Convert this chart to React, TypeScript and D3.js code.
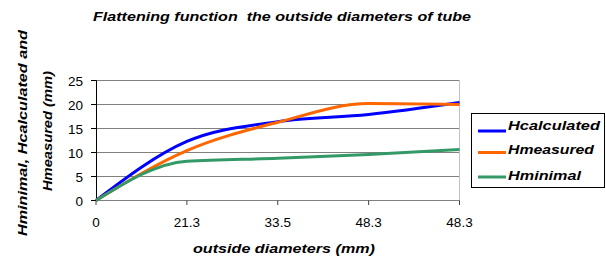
import React from "react";
import * as d3 from "d3";

const categories = ["0", "21.3", "33.5", "48.3", "48.3"];
const hCalculated = [0, 12.3, 16.4, 17.9, 20.4];
const hMeasured = [0, 10.4, 16.3, 20.2, 20.0];
const hMinimal = [0, 8.2, 8.8, 9.6, 10.6];
const yTicks = [0, 5, 10, 15, 20, 25];
const seriesNames = ["Hcalculated", "Hmeasured", "Hminimal"];
const seriesColors = ["#0000FF", "#FF6600", "#339966"];
const legendLengths = [92, 86, 73];

const W = 606;
const H = 261;
const FONT = "'Liberation Sans', Arial, sans-serif";

export default function App() {
  const x = d3.scalePoint<number>().domain(d3.range(categories.length)).range([96, 459.5]);
  const y = d3.scaleLinear().domain([0, 25]).range([200.5, 80.5]);
  const line = d3
    .line<number>()
    .x((_, i) => x(i) as number)
    .y((d) => y(d))
    .curve(d3.curveMonotoneX);
  const series = [hCalculated, hMeasured, hMinimal];
  const legendY = [131, 152.5, 177];
  const legendBase = [130, 154, 180];

  return (
    <svg
      width={W}
      height={H}
      style={{ position: "absolute", left: 0, top: 0, background: "#fff" }}
      fontFamily={FONT}
    >
      <rect x={0} y={0} width={W} height={H} fill="#fff" />
      {/* title */}
      <text x={93} y={21} fontSize={13.5} fontWeight="bold" fontStyle="italic" textLength={378} lengthAdjust="spacingAndGlyphs" fill="#000" style={{ whiteSpace: "pre" }}>
        {"Flattening function  the outside diameters of tube"}
      </text>
      {/* gridlines */}
      {yTicks.filter((t) => t > 0).map((t) => (
        <line key={t} x1={96} x2={459.5} y1={y(t)} y2={y(t)} stroke="#808080" strokeWidth={1} />
      ))}
      {/* right border */}
      <line x1={459.5} x2={459.5} y1={80.5} y2={200.5} stroke="#c0c0c0" strokeWidth={1} />
      {/* x axis */}
      <line x1={96} x2={459.5} y1={200.5} y2={200.5} stroke="#808080" strokeWidth={1} />
      {categories.map((c, i) => (
        <g key={i}>
          <line x1={(x(i) as number)} x2={(x(i) as number)} y1={200.5} y2={205} stroke="#404040" strokeWidth={1} />
          <text x={x(i) as number} y={227} fontSize={13.5} textAnchor="middle" fill="#000">
            {c}
          </text>
        </g>
      ))}
      {/* y axis */}
      <line x1={96.5} x2={96.5} y1={80.5} y2={200.5} stroke="#000" strokeWidth={1} />
      {yTicks.map((t) => (
        <g key={t}>
          <line x1={91} x2={96.5} y1={y(t)} y2={y(t)} stroke="#000" strokeWidth={1} />
          <text x={83} y={y(t) + 5} fontSize={13.5} textAnchor="end" fill="#000">
            {t}
          </text>
        </g>
      ))}
      {/* series */}
      {series.map((s, k) => (
        <path key={k} d={line(s) as string} fill="none" stroke={seriesColors[k]} strokeWidth={3} />
      ))}
      {/* axis titles */}
      <text x={284} y={253} fontSize={12} fontWeight="bold" fontStyle="italic" textAnchor="middle" textLength={182} lengthAdjust="spacingAndGlyphs" fill="#000">
        outside diameters (mm)
      </text>
      <g transform="translate(27,133) rotate(-90)">
        <text x={0} y={0} fontSize={12.5} fontWeight="bold" fontStyle="italic" textAnchor="middle" textLength={206} lengthAdjust="spacingAndGlyphs" fill="#000">
          Hminimal, Hcalculated and
        </text>
      </g>
      <g transform="translate(52,131) rotate(-90)">
        <text x={0} y={0} fontSize={12.5} fontWeight="bold" fontStyle="italic" textAnchor="middle" textLength={120} lengthAdjust="spacingAndGlyphs" fill="#000">
          Hmeasured (mm)
        </text>
      </g>
      {/* legend */}
      <rect x={471.5} y={113.5} width={133} height={74} fill="#fff" stroke="#000" strokeWidth={1} />
      {seriesNames.map((n, k) => (
        <g key={n}>
          <line x1={478} x2={506} y1={legendY[k]} y2={legendY[k]} stroke={seriesColors[k]} strokeWidth={3} />
          <text x={508} y={legendBase[k]} fontSize={13} fontWeight="bold" fontStyle="italic" textLength={legendLengths[k]} lengthAdjust="spacingAndGlyphs" fill="#000">
            {n}
          </text>
        </g>
      ))}
    </svg>
  );
}
